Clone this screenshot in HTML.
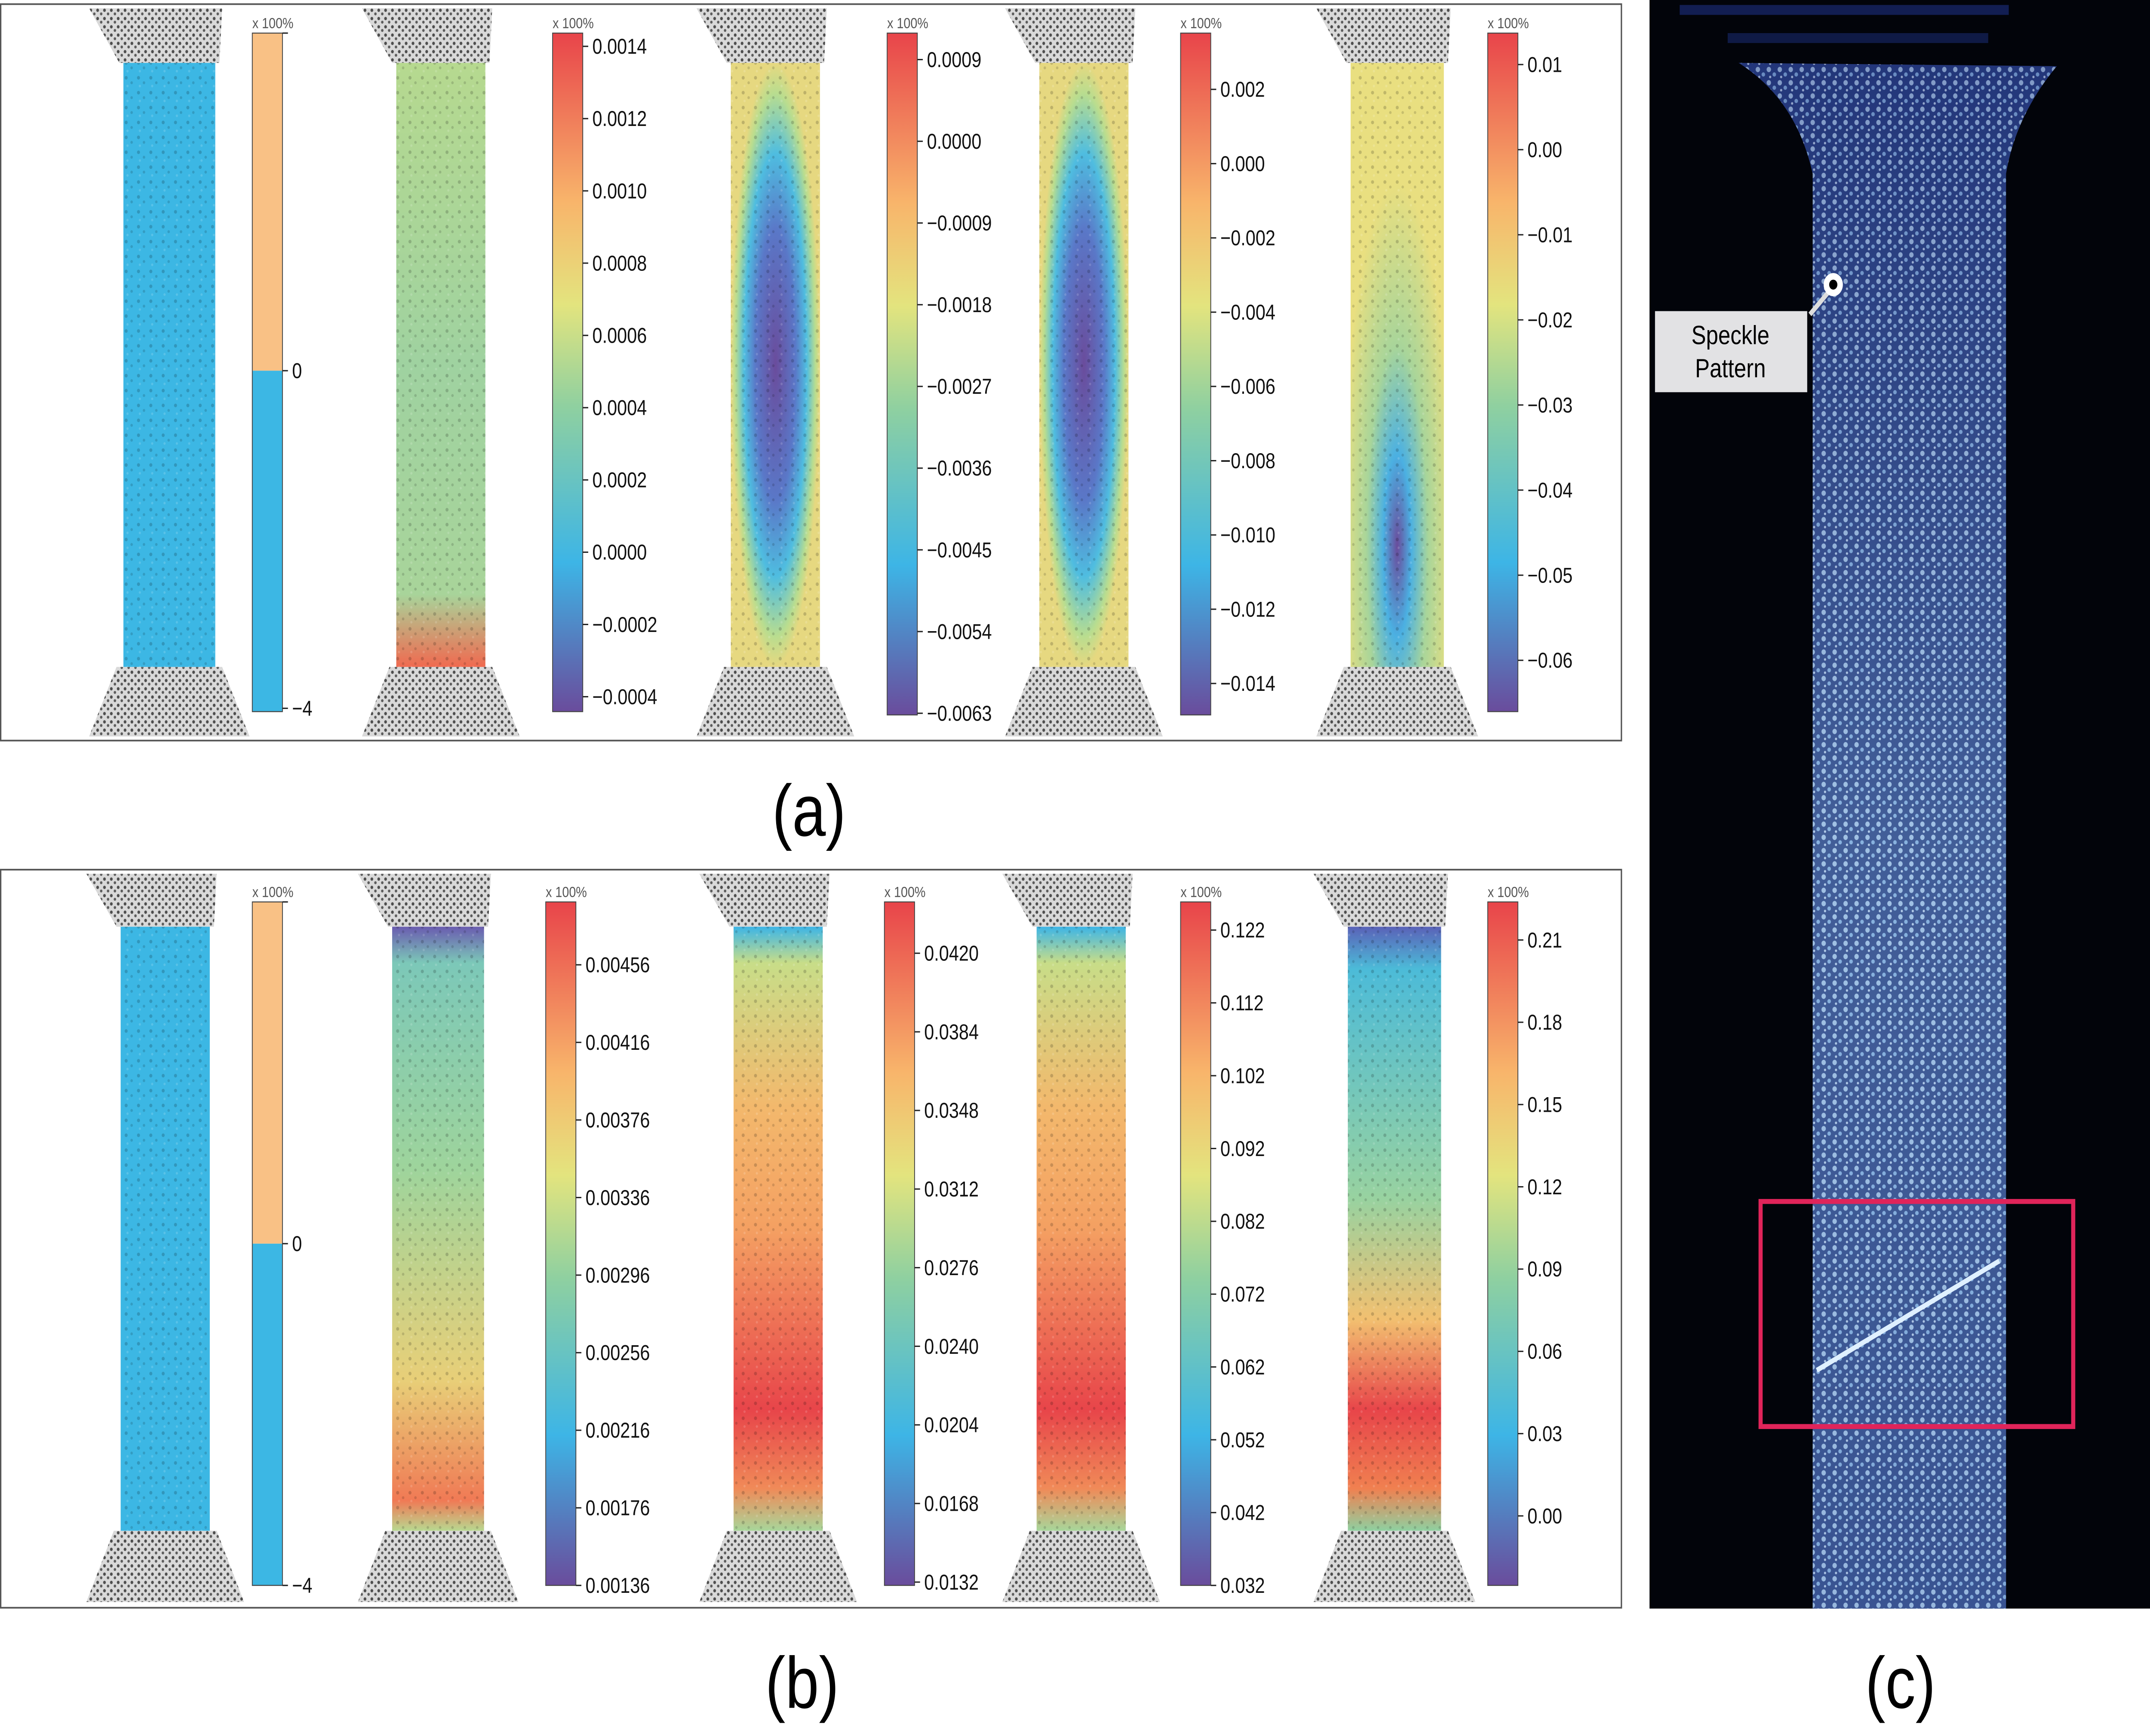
<!DOCTYPE html>
<html><head><meta charset="utf-8">
<style>
html,body{margin:0;padding:0;background:#fff;width:100%;height:100%;overflow:hidden;}
svg{display:block;width:100vw;height:100vh;}
text{font-family:"Liberation Sans",sans-serif;}
</style></head>
<body>
<svg id="fig" viewBox="0 0 1568 1049" preserveAspectRatio="none" xmlns="http://www.w3.org/2000/svg">
<defs>
  <linearGradient id="cmap" x1="0" y1="1" x2="0" y2="0">
    <stop offset="0" stop-color="#6a4c9c"/>
    <stop offset="0.22" stop-color="#3db5e6"/>
    <stop offset="0.45" stop-color="#8fd0a0"/>
    <stop offset="0.6" stop-color="#e3e47e"/>
    <stop offset="0.75" stop-color="#f8b56b"/>
    <stop offset="1" stop-color="#e8444a"/>
  </linearGradient>
  <pattern id="speck" width="9" height="9" patternUnits="userSpaceOnUse">
    <circle cx="2" cy="2" r="1.1" fill="#000" opacity="0.18"/>
    <circle cx="6" cy="5" r="0.9" fill="#000" opacity="0.15"/>
    <circle cx="3" cy="7" r="0.8" fill="#fff" opacity="0.15"/>
  </pattern>
  <pattern id="grip" width="5" height="5" patternUnits="userSpaceOnUse">
    <rect width="5" height="5" fill="#d0d0d0"/>
    <circle cx="1.2" cy="1.2" r="1" fill="#222"/>
    <circle cx="3.8" cy="3.4" r="0.9" fill="#333"/>
  </pattern>
  <pattern id="cspeck" width="8" height="8" patternUnits="userSpaceOnUse">
    <rect width="8" height="8" fill="#1d2f6e"/>
    <circle cx="2" cy="2" r="1.6" fill="#c8e4f8"/>
    <circle cx="6" cy="5" r="1.3" fill="#9cc8ee"/>
    <circle cx="3" cy="6.5" r="0.8" fill="#e6f4ff"/>
  </pattern>
  <linearGradient id="fa2" x1="0" y1="0" x2="0" y2="1">
    <stop offset="0" stop-color="#b6d98f"/><stop offset="0.5" stop-color="#9fd2a0"/><stop offset="0.88" stop-color="#a8d49a"/><stop offset="1" stop-color="#f06a50"/>
  </linearGradient>
  <radialGradient id="fa3" cx="0.5" cy="0.5" r="0.5">
    <stop offset="0" stop-color="#6a4c9c"/><stop offset="0.45" stop-color="#5a78c8"/><stop offset="0.7" stop-color="#4fbde0"/><stop offset="0.9" stop-color="#b9dd8f"/><stop offset="1" stop-color="#e6d880"/>
  </radialGradient>
  <radialGradient id="fa5" cx="0.5" cy="0.8" r="0.6">
    <stop offset="0" stop-color="#6a4c9c"/><stop offset="0.25" stop-color="#4bb0e2"/><stop offset="0.55" stop-color="#a8d59a"/><stop offset="1" stop-color="#e9df80"/>
  </radialGradient>
  <linearGradient id="fb2" x1="0" y1="0" x2="0" y2="1">
    <stop offset="0" stop-color="#6a5cb0"/><stop offset="0.06" stop-color="#7cc8b8"/><stop offset="0.4" stop-color="#9ed49c"/><stop offset="0.75" stop-color="#e8cf78"/><stop offset="0.95" stop-color="#f07a55"/><stop offset="1" stop-color="#b8d890"/>
  </linearGradient>
  <linearGradient id="fb3" x1="0" y1="0" x2="0" y2="1">
    <stop offset="0" stop-color="#3db5e6"/><stop offset="0.06" stop-color="#c8dd88"/><stop offset="0.3" stop-color="#f3b86c"/><stop offset="0.5" stop-color="#f4a062"/><stop offset="0.8" stop-color="#e8454a"/><stop offset="0.93" stop-color="#f08a58"/><stop offset="1" stop-color="#a8d69a"/>
  </linearGradient>
  <linearGradient id="fb5" x1="0" y1="0" x2="0" y2="1">
    <stop offset="0" stop-color="#5a62b8"/><stop offset="0.07" stop-color="#4cbbd8"/><stop offset="0.45" stop-color="#98d2a0"/><stop offset="0.65" stop-color="#f2c070"/><stop offset="0.8" stop-color="#e8454a"/><stop offset="0.93" stop-color="#f08050"/><stop offset="1" stop-color="#8fd0a0"/>
  </linearGradient>
  <linearGradient id="colc" x1="0" y1="0" x2="0" y2="1">
    <stop offset="0" stop-color="#2a3f88"/><stop offset="0.5" stop-color="#6f97cc"/><stop offset="1" stop-color="#5b80bd"/>
  </linearGradient>
</defs>
<rect x="0" y="0" width="1568" height="1049" fill="#fff"/>
<rect x="0.5" y="2.5" width="1182" height="445" fill="none" stroke="#555" stroke-width="1"/>
<rect x="0.5" y="525.5" width="1182" height="446" fill="none" stroke="#555" stroke-width="1"/>
<g id="panels"></g>

<text x="590" y="505" font-size="44" text-anchor="middle">(a)</text>
<text x="585" y="1032" font-size="44" text-anchor="middle">(b)</text>
<text x="1386" y="1032" font-size="44" text-anchor="middle">(c)</text>

<g>
  <rect x="1203" y="0" width="365" height="972" fill="#02040a"/>
  <rect x="1225" y="3" width="240" height="6" fill="#1a2a70" opacity="0.7"/>
  <rect x="1260" y="20" width="190" height="6" fill="#16245e" opacity="0.7"/>
  <path d="M1268 38 L1500 40 Q1470 70 1463 105 L1463 972 L1322 972 L1322 105 Q1310 60 1268 38 Z" fill="url(#colc)"/>
  <path d="M1268 38 L1500 40 Q1470 70 1463 105 L1463 972 L1322 972 L1322 105 Q1310 60 1268 38 Z" fill="url(#cspeck)" opacity="0.55"/>
  <path d="M1325 828 L1458 762" stroke="#dff0ff" stroke-width="3"/>
  <rect x="1284" y="726" width="228" height="136" fill="none" stroke="#e0245a" stroke-width="3"/>
  <line x1="1320" y1="190" x2="1333" y2="177" stroke="#ddd" stroke-width="3"/>
  <circle cx="1337" cy="172" r="7" fill="#fff"/><circle cx="1337" cy="172" r="3" fill="#000"/>
  <rect x="1207" y="188" width="111" height="49" fill="#e2e2e4"/>
  <text x="1262" y="208" font-size="16" text-anchor="middle">Speckle</text>
  <text x="1262" y="228" font-size="16" text-anchor="middle">Pattern</text>
</g>

<script>
// Colorbar tick labels, panel (a)
const ticksA1 = ["4","0","\u22124"];
const ticksA2 = ["0.0014","0.0012","0.0010","0.0008","0.0006","0.0004","0.0002","0.0000","\u22120.0002","\u22120.0004"];
const ticksA3 = ["0.0009","0.0000","\u22120.0009","\u22120.0018","\u22120.0027","\u22120.0036","\u22120.0045","\u22120.0054","\u22120.0063"];
const ticksA4 = ["0.002","0.000","\u22120.002","\u22120.004","\u22120.006","\u22120.008","\u22120.010","\u22120.012","\u22120.014"];
const ticksA5 = ["0.01","0.00","\u22120.01","\u22120.02","\u22120.03","\u22120.04","\u22120.05","\u22120.06"];
// panel (b)
const ticksB1 = ["4","0","\u22124"];
const ticksB2 = ["0.00456","0.00416","0.00376","0.00336","0.00296","0.00256","0.00216","0.00176","0.00136"];
const ticksB3 = ["0.0420","0.0384","0.0348","0.0312","0.0276","0.0240","0.0204","0.0168","0.0132"];
const ticksB4 = ["0.122","0.112","0.102","0.092","0.082","0.072","0.062","0.052","0.042","0.032"];
const ticksB5 = ["0.21","0.18","0.15","0.12","0.09","0.06","0.03","0.00"];

const NS="http://www.w3.org/2000/svg";
const root=document.getElementById('panels');
function mk(tag,attrs,parent){const e=document.createElementNS(NS,tag);for(const k in attrs)e.setAttribute(k,attrs[k]);(parent||root).appendChild(e);return e;}

const rowA={fy0:38,fy1:403,gTop:5,gBot:445};
const rowB={fy0:560,fy1:925,gTop:528,gBot:968};
const specs=[
 [rowA,90,67,184,20,430,20,428,"binary",ticksA1,"a1"],
 [rowA,289,65,403,20,430,28,421,"url(#fa2)",ticksA2,"a2"],
 [rowA,533,65,647,20,432,36,431,"url(#fa3)",ticksA3,"a3"],
 [rowA,758,65,861,20,432,54,413,"url(#fa3)",ticksA4,"a4"],
 [rowA,985,68,1085,20,430,39,399,"url(#fa5)",ticksA5,"a5"],
 [rowB,88,65,184,545,958,545,958,"binary",ticksB1,"b1"],
 [rowB,286,67,398,545,958,583,958,"url(#fb2)",ticksB2,"b2"],
 [rowB,535,65,645,545,958,576,956,"url(#fb3)",ticksB3,"b3"],
 [rowB,756,65,861,545,958,562,958,"url(#fb3)",ticksB4,"b4"],
 [rowB,983,68,1085,545,958,568,916,"url(#fb5)",ticksB5,"b5"]
];
specs.forEach(s=>{
  const [row,fx,fw,cx,ct,cb,t0,t1,fill,ticks,id]=s;
  const g=mk('g',{});
  
  
  const gt=mk('path',{d:`M${fx-25} ${row.gTop} L${fx+fw+5} ${row.gTop} L${fx+fw+3} ${row.fy0} L${fx-3} ${row.fy0} Z`,fill:'url(#grip)',opacity:'0.8'},g);
  
  
  const gb=mk('path',{d:`M${fx-5} ${row.fy1} L${fx+fw+5} ${row.fy1} L${fx+fw+25} ${row.gBot} L${fx-25} ${row.gBot} Z`,fill:'url(#grip)',opacity:'0.8'},g);
  
  
  const f=mk('rect',{x:fx,y:row.fy0,width:fw,height:row.fy1-row.fy0,fill:fill==="binary"?"#3cb7e4":fill},g);
  
  
  mk('rect',{x:fx,y:row.fy0,width:fw,height:row.fy1-row.fy0,fill:'url(#speck)'},g);
  const bar=mk('g',{},g);
  
  
  if(fill==="binary"){
    const mid=t0+(t1-t0)*0.5;
    mk('rect',{x:cx,y:ct,width:22,height:mid-ct,fill:'#f9c185'},bar);
    mk('rect',{x:cx,y:mid,width:22,height:cb-mid,fill:'#3cb7e4'},bar);
  } else {
    mk('rect',{x:cx,y:ct,width:22,height:cb-ct,fill:'url(#cmap)'},bar);
  }
  mk('rect',{x:cx,y:ct,width:22,height:cb-ct,fill:'none',stroke:'#444','stroke-width':0.6},bar);
  const u=mk('text',{x:cx,y:ct-3,'font-size':9,fill:'#555'},bar);
  u.textContent='x 100%';
  ticks.forEach((t,i)=>{
    const y=t0+(t1-t0)*i/(ticks.length-1);
    mk('line',{x1:cx+22,x2:cx+26,y1:y,y2:y,stroke:'#222','stroke-width':0.8},bar);
    if(fill==="binary"&&i===0){ return; }
    const tx=mk('text',{x:cx+29,y:y+4.5,'font-size':13,fill:'#111'},bar);
    
    
    tx.textContent=t;
  });
});
</script>
</svg>
</body></html>
